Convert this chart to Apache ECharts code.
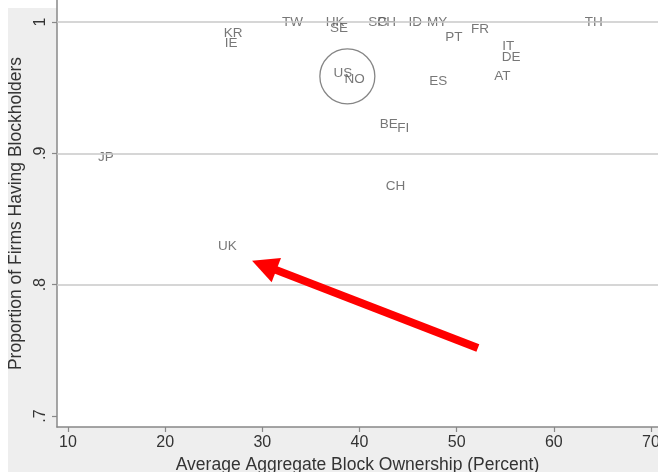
<!DOCTYPE html>
<html>
<head>
<meta charset="utf-8">
<script src="https://cdn.jsdelivr.net/npm/echarts@6/dist/echarts.min.js"></script>
<style>
html,body{margin:0;padding:0;background:#fff;}
#chart{width:658px;height:472px;}
</style>
</head>
<body>
<div id="chart"></div>
<script>
const countries = ['TW','HK','SE','SG','PH','ID','MY','PT','FR','TH','IT','DE','AT','ES','US','NO','BE','FI','CH','KR','IE','JP','UK'];
const blockOwnership = [33.1,37.5,37.9,41.9,42.8,45.75,48.0,49.7,52.4,64.1,55.3,55.6,54.7,48.1,38.3,39.5,43.0,44.5,43.7,27.0,26.8,13.9,26.4];
const propBlockholders = [1.0,1.0,0.995,1.0,1.0,1.0,1.0,0.988,0.9948,1.0,0.9814,0.9728,0.9586,0.9548,0.9613,0.9563,0.922,0.9188,0.8751,0.9915,0.9839,0.8967,0.8295];
const usCircle = [38.75, 0.9586];
const arrowFrom = [52.18, 0.7518];
const arrowTo = [30.19, 0.8147];
const xTicks = [10,20,30,40,50,60,70];
const yTicks = [0.7,0.8,0.9,1.0];
const gridValues = [0.8,0.9,1.0];
const xRange = [8.868, 70.72];
const yRange = [0.69162, 1.01675];

const FONT = '"Liberation Sans", Arial, Helvetica, sans-serif';
const labelData = countries.map((c,i)=>[blockOwnership[i], propBlockholders[i], c]);

const chart = echarts.init(document.getElementById('chart'), null, {renderer:'canvas'});
chart.setOption({
  animation:false,
  backgroundColor:'#ffffff',
  graphic:[
    {type:'rect', z:-100, shape:{x:8,y:8,width:650,height:464}, style:{fill:'#eeeeee'}},
    {type:'rect', z:-99, shape:{x:57,y:0,width:601,height:427}, style:{fill:'#ffffff'}}
  ],
  grid:{left:57, right:0, top:0, bottom:45, containLabel:false, outerBoundsMode:'none'},
  xAxis:{
    type:'value', min:xRange[0], max:xRange[1],
    name:'Average Aggregate Block Ownership (Percent)',
    nameLocation:'middle', nameGap:27,
    nameTextStyle:{fontFamily:FONT, fontSize:17.5, color:'#333'},
    axisLine:{show:true, onZero:false, lineStyle:{color:'#888', width:1.5}},
    axisTick:{show:true, customValues:xTicks, length:5, lineStyle:{color:'#888', width:1.2}},
    axisLabel:{customValues:xTicks, fontFamily:FONT, fontSize:16, color:'#333', margin:8},
    splitLine:{show:false}
  },
  yAxis:{
    type:'value', min:yRange[0], max:yRange[1],
    name:'Proportion of Firms Having Blockholders',
    nameLocation:'middle', nameGap:29,
    nameTextStyle:{fontFamily:FONT, fontSize:17.5, color:'#333'},
    axisLine:{show:true, onZero:false, lineStyle:{color:'#888', width:1.5}},
    axisTick:{show:true, customValues:yTicks, length:5, lineStyle:{color:'#888', width:1.2}},
    axisLabel:{customValues:yTicks, rotate:90, fontFamily:FONT, fontSize:16, color:'#333', margin:8,
      formatter:v=>{ const s = (Math.round(v*10)/10).toString(); return s==='1'?'1':s.replace(/^0/,''); }},
    splitLine:{show:false}
  },
  series:[
    {
      type:'scatter', data:labelData, symbolSize:0.1, itemStyle:{color:'transparent'},
      label:{show:true, position:'inside', formatter:p=>p.data[2], fontFamily:FONT, fontSize:13.5, color:'#555'},
      markLine:{silent:true, symbol:'none', label:{show:false},
        lineStyle:{color:'#c8c8c8', width:1.5, type:'solid'},
        data:gridValues.map(v=>({yAxis:v}))},
      z:3
    },
    {
      type:'scatter', data:[usCircle], symbol:'circle', symbolSize:55,
      itemStyle:{color:'transparent', borderColor:'#666', borderWidth:1.3}, z:4
    },
    {
      type:'lines', coordinateSystem:'cartesian2d', z:10,
      data:[{coords:[arrowFrom, arrowTo]}],
      symbol:['none','triangle'], symbolSize:[24,26],
      lineStyle:{color:'#ff0000', width:8, opacity:1, curveness:0},
      itemStyle:{color:'#ff0000'}
    }
  ]
});
</script>
</body>
</html>
